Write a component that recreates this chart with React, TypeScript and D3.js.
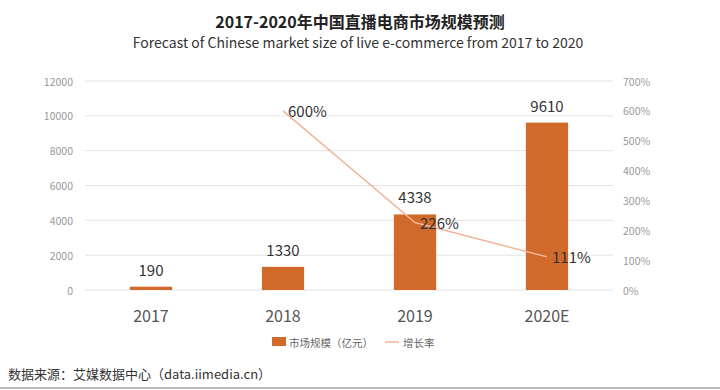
import * as d3 from "d3";

const years = ["2017", "2018", "2019", "2020E"];
const marketSize = [190, 1330, 4338, 9610];
const growthYears = ["2018", "2019", "2020E"];
const growthRate = [600, 226, 111];
const leftTicks = [0, 2000, 4000, 6000, 8000, 10000, 12000];
const rightTicks = [0, 100, 200, 300, 400, 500, 600, 700];

const WIDTH = 720;
const HEIGHT = 390;
const MARGIN = { top: 81, right: 107, bottom: 100, left: 85 };
const BAR_COLOR = "#d0692a";
const LINE_COLOR = "#f2b495";
const FONT = "'Noto Sans CJK SC', 'Noto Sans', sans-serif";

export default function App() {
  const boundsWidth = WIDTH - MARGIN.left - MARGIN.right;
  const boundsHeight = HEIGHT - MARGIN.top - MARGIN.bottom;

  const xScale = d3
    .scaleBand()
    .domain(years)
    .range([0, boundsWidth])
    .paddingInner(0.68)
    .paddingOuter(0.34);
  const yLeft = d3.scaleLinear().domain([0, 12000]).range([boundsHeight, 0]);
  const yRight = d3.scaleLinear().domain([0, 700]).range([boundsHeight, 0]);

  const cx = (y: string) => (xScale(y) ?? 0) + xScale.bandwidth() / 2;

  const linePath = d3
    .line<number>()
    .x((_, i) => cx(growthYears[i]))
    .y((d) => yRight(d))(growthRate);

  return (
    <svg
      width={WIDTH}
      height={HEIGHT}
      style={{ position: "absolute", left: 0, top: 0, background: "#fff" }}
      fontFamily={FONT}
    >
      <text x={360} y={28} textAnchor="middle" fontSize={16} fontWeight="bold" fill="#222">
        2017-2020年中国直播电商市场规模预测
      </text>
      <text x={358} y={48} textAnchor="middle" fontSize={14} fill="#333">
        Forecast of Chinese market size of live e-commerce from 2017 to 2020
      </text>

      <g transform={`translate(${MARGIN.left},${MARGIN.top})`}>
        {leftTicks.map((t) => (
          <g key={t}>
            <line x1={0} x2={boundsWidth} y1={yLeft(t)} y2={yLeft(t)} stroke="#e3e3e3" />
            <text
              x={-12}
              y={yLeft(t)}
              textAnchor="end"
              dominantBaseline="central"
              fontSize={10.5}
              fill="#999"
            >
              {t}
            </text>
          </g>
        ))}
        {rightTicks.map((t) => (
          <text
            key={t}
            x={boundsWidth + 10}
            y={yRight(t)}
            dominantBaseline="central"
            fontSize={10.5}
            fill="#999"
          >
            {t}%
          </text>
        ))}

        {years.map((y, i) => (
          <g key={y}>
            <rect
              x={xScale(y)}
              y={yLeft(marketSize[i])}
              width={xScale.bandwidth()}
              height={boundsHeight - yLeft(marketSize[i])}
              fill={BAR_COLOR}
            />
            <text
              x={cx(y)}
              y={yLeft(marketSize[i]) - 11}
              textAnchor="middle"
              fontSize={15}
              fill="#333"
            >
              {marketSize[i]}
            </text>
            <text
              x={cx(y)}
              y={boundsHeight + 25}
              dominantBaseline="central"
              textAnchor="middle"
              fontSize={16}
              fill="#555"
            >
              {y}
            </text>
          </g>
        ))}

        <path d={linePath ?? ""} fill="none" stroke={LINE_COLOR} strokeWidth={1.5} />
        {growthYears.map((y, i) => (
          <text
            key={y}
            x={cx(y) + 5}
            y={yRight(growthRate[i])}
            dominantBaseline="central"
            fontSize={15}
            fill="#333"
          >
            {growthRate[i]}%
          </text>
        ))}
      </g>

      <g transform="translate(272,342)">
        <rect x={0} y={-5} width={14} height={9} fill={BAR_COLOR} />
        <text x={17} y={0} dominantBaseline="central" fontSize={10.5} fill="#666">
          市场规模（亿元）
        </text>
        <line x1={113} x2={127} y1={0} y2={0} stroke={LINE_COLOR} strokeWidth={1.5} />
        <text x={131} y={0} dominantBaseline="central" fontSize={10.5} fill="#666">
          增长率
        </text>
      </g>

      <text x={8} y={379} fontSize={13} fill="#333">
        数据来源：艾媒数据中心（data.iimedia.cn）
      </text>
      <line x1={0} x2={WIDTH} y1={388} y2={388} stroke="#bbb" strokeWidth={2} />
    </svg>
  );
}
